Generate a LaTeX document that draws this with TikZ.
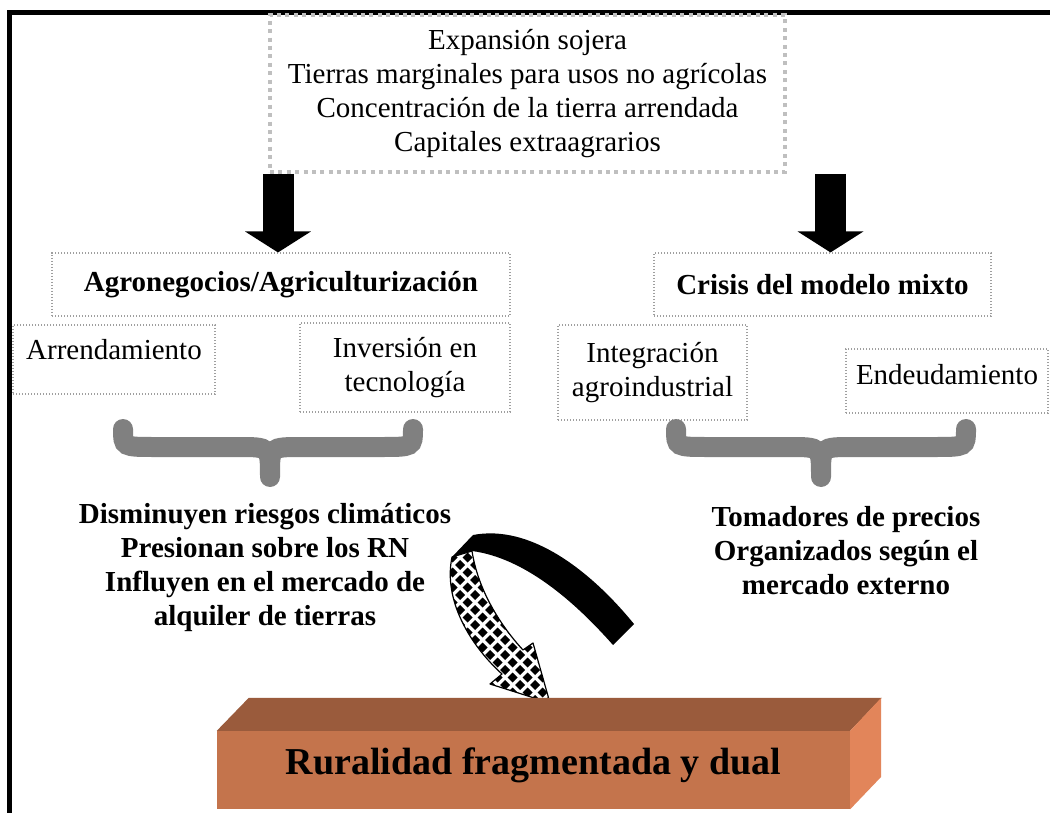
\documentclass[tikz,border=0pt]{standalone}
\usepackage{fontspec}
\setmainfont{Liberation Serif}
\usetikzlibrary{arrows.meta}

\definecolor{frontc}{RGB}{196,116,76}
\definecolor{topc}{RGB}{154,91,60}
\definecolor{sidec}{RGB}{226,133,90}

\begin{document}
\begin{tikzpicture}[x=1pt,y=-1pt,
  every node/.style={font=\fontsize{29}{34}\selectfont, align=center, inner sep=0pt},
  topbox/.style={draw=gray!50, line width=4pt, dash pattern=on 4pt off 4.4pt},
  dotbox/.style={draw=gray!75, line width=1.1pt, dash pattern=on 1.1pt off 1.9pt},
  bold/.style={font=\fontsize{29}{34}\selectfont\bfseries},
  bigarrow/.style={line width=31pt, -{Triangle[width=65pt,length=21pt]}},
  brace/.style={draw=gray, line width=20pt, line cap=round}]

\path[fill=white] (0,0) rectangle (1050,813);
\useasboundingbox (0,0) rectangle (1050,813);

% frame
\draw[line width=5pt] (9.5,813) -- (9.5,13) -- (1050,13);

% top box
\node[topbox, minimum width=515, minimum height=157] (top) at (527.5,93.5)
  {Expansión sojera\\Tierras marginales para usos no agrícolas\\Concentración de la tierra arrendada\\Capitales extraagrarios};

% second row
\node[dotbox, bold, minimum width=458, minimum height=63] (agro) at (281,284.5) {Agronegocios/Agriculturización};
\node[dotbox, bold, minimum width=337, minimum height=63] (crisis) at (822.5,284.5) {Crisis del modelo mixto};

\draw[bigarrow] ([xshift=-3]agro.north |- top.south) -- ([xshift=-3]agro.north);
\draw[bigarrow] ([xshift=8]crisis.north |- top.south) -- ([xshift=8]crisis.north);

% third row
\node[dotbox, minimum width=202, minimum height=69, text depth=20pt] (arr) at (114,359.5) {Arrendamiento};
\node[dotbox, minimum width=210, minimum height=89] (inv) at (405,367.5) {Inversión en\\tecnología};
\node[dotbox, minimum width=189, minimum height=95] (integ) at (652.5,372.5) {Integración\\agroindustrial};
\node[dotbox, minimum width=202, minimum height=64, text depth=13pt] (endeu) at (947,381) {Endeudamiento};

% braces
\draw[brace] (123,429) .. controls (123,447) .. (155,447) -- (238,447) .. controls (270,447) .. (270,477)
  (270,475) .. controls (270,447) .. (302,447) -- (381,447) .. controls (413,447) .. (413,429);
\draw[brace] (676,429) .. controls (676,447) .. (708,447) -- (789,447) .. controls (821,447) .. (821,477)
  (821,475) .. controls (821,447) .. (853,447) -- (934,447) .. controls (966,447) .. (966,429);

% results
\node[bold] (left) at (265,568) {Disminuyen riesgos climáticos\\Presionan sobre los RN\\Influyen en el mercado de\\alquiler de tierras};
\node[bold] (right) at (846,551) {Tomadores de precios\\Organizados según el\\mercado externo};

% curved arrow
\fill (452,557) -- (473,535) .. controls (530,524) and (590,570) .. (634,624) -- (613,645) .. controls (575,602) and (525,558) .. (472,551) -- cycle;
\begin{scope}
\clip (452,557) .. controls (443,600) and (470,645) .. (502,674) -- (490,684) -- (550,703) -- (533,643) -- (523,650) .. controls (500,625) and (478,590) .. (472,551) -- cycle;
\fill[white] (430,520) rectangle (600,720);
\foreach \i in {0,...,11}
  \foreach \j in {0,...,26} {
    \pgfmathsetmacro{\cx}{430+15*\i+7.5*mod(\j,2)}
    \pgfmathsetmacro{\cy}{520+7.5*\j}
    \fill (\cx,\cy-5) -- (\cx+5,\cy) -- (\cx,\cy+5) -- (\cx-5,\cy) -- cycle;
  }
\end{scope}
\draw[line width=1.2pt, line join=round] (452,557) .. controls (443,600) and (470,645) .. (502,674) -- (490,684) -- (550,703) -- (533,643) -- (523,650) .. controls (500,625) and (478,590) .. (472,551) -- cycle;

% bottom block
\node[fill=frontc, minimum width=633, minimum height=78, text depth=17pt, font=\fontsize{38}{44}\selectfont\bfseries] (rural) at (533.5,770) {Ruralidad fragmentada y dual};
\fill[topc] (rural.north west) -- ++(32,-33) -- ++(633,0) -- (rural.north east) -- cycle;
\fill[sidec] (rural.north east) -- ++(31,-33) -- ++(0,79) -- (rural.south east) -- cycle;

\end{tikzpicture}
\end{document}
